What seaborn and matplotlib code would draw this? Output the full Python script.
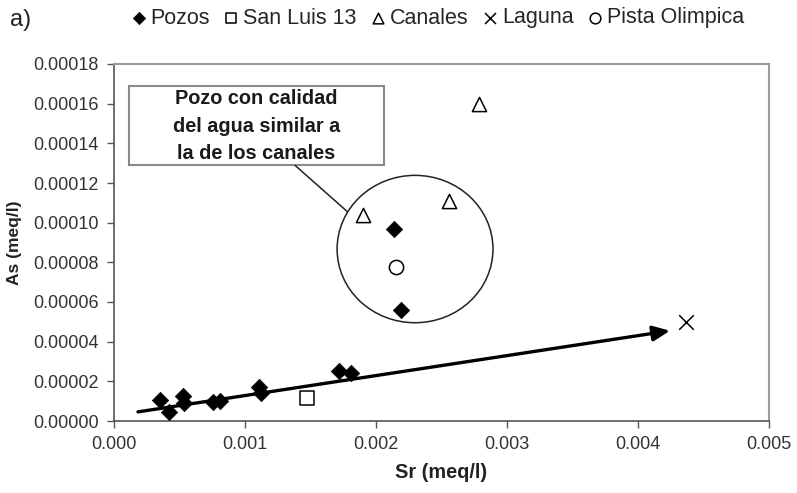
import matplotlib
matplotlib.use("Agg")
import matplotlib.pyplot as plt
from matplotlib.patches import Ellipse, Rectangle
import seaborn as sns
import numpy as np
import pandas as pd

# ---- data ----
pozos_sr = [0.000351, 0.000420, 0.000527, 0.000534, 0.000756, 0.000809,
            0.001107, 0.001122, 0.001718, 0.001809, 0.002137, 0.002191]
pozos_as = [1.06e-5, 4.6e-6, 1.26e-5, 9.1e-6, 9.6e-6, 1.01e-5,
            1.72e-5, 1.42e-5, 2.53e-5, 2.43e-5, 9.66e-5, 5.61e-5]
sanluis_sr = [0.001473]
sanluis_as = [1.16e-5]
canales_sr = [0.001900, 0.002557, 0.002786]
canales_as = [1.04e-4, 1.107e-4, 1.598e-4]
laguna_sr = [0.004366]
laguna_as = [5.0e-5]
pista_sr = [0.002153]
pista_as = [7.74e-5]
trend_sr = [0.000183, 0.004244]
trend_as = [4.6e-6, 4.55e-5]

xticks = [0.000, 0.001, 0.002, 0.003, 0.004, 0.005]
yticks = [0.0, 0.00002, 0.00004, 0.00006, 0.00008, 0.00010,
          0.00012, 0.00014, 0.00016, 0.00018]
x_label = "Sr (meq/l)"
y_label = "As (meq/l)"
box_text = "Pozo con calidad\ndel agua similar a\nla de los canales"

sns.set_theme(style="white")
plt.rcParams['font.family'] = ['Liberation Sans', 'DejaVu Sans']

fig = plt.figure(figsize=(7.97, 4.93), dpi=100)
ax = fig.add_axes([114/797, 72/493, (769-114)/797, (421-64)/493])

sns.scatterplot(x=pozos_sr, y=pozos_as, marker='D', s=70, color='black',
                edgecolor='black', linewidth=0.5, ax=ax, label='Pozos', zorder=4)
sns.scatterplot(x=sanluis_sr, y=sanluis_as, marker='s', s=95, facecolor='white',
                edgecolor='black', linewidth=1.1, ax=ax, label='San Luis 13', zorder=4)
sns.scatterplot(x=canales_sr, y=canales_as, marker='^', s=105, facecolor='white',
                edgecolor='black', linewidth=1.1, ax=ax, label='Canales', zorder=4)
sns.scatterplot(x=laguna_sr, y=laguna_as, marker='x', s=110, color='black',
                linewidth=1.1, ax=ax, label='Laguna', zorder=4)
sns.scatterplot(x=pista_sr, y=pista_as, marker='o', s=105, facecolor='white',
                edgecolor='black', linewidth=1.1, ax=ax, label='Pista Olimpica', zorder=4)

# trend arrow
ax.annotate('', xy=(trend_sr[1], trend_as[1]), xytext=(trend_sr[0], trend_as[0]),
            arrowprops=dict(arrowstyle='-|>,head_length=0.85,head_width=0.38',
                            lw=2.4, color='black', shrinkA=0, shrinkB=0),
            zorder=3)

# circle grouping
ax.add_patch(Ellipse((0.002298, 8.67e-5), 0.00119, 7.43e-5, fill=False,
                     edgecolor='#222222', lw=1.1, zorder=2))
# annotation box
ax.add_patch(Rectangle((0.000115, 1.289e-4), 0.002061-0.000115, 1.689e-4-1.289e-4,
                       facecolor='white', edgecolor='#8a8a8a', lw=1.5, zorder=2))
ax.text(0.001088, 1.487e-4, box_text, ha='center', va='center', fontsize=14.3,
        fontweight='bold', color='#1a1a1a', linespacing=1.55, zorder=3)
ax.plot([0.001382, 0.001779], [1.289e-4, 1.057e-4], color='#222222', lw=1.1, zorder=2)

ax.set_xlim(0, 0.005)
ax.set_ylim(0, 0.00018)
ax.set_xticks(xticks)
ax.set_yticks(yticks)
ax.set_xticklabels([f"{v:.3f}" for v in xticks])
ax.set_yticklabels([f"{v:.5f}" for v in yticks])
ax.tick_params(axis='both', which='both', direction='out', length=5, width=1,
               color='#555555', labelsize=13, labelcolor='#333333', pad=6,
               bottom=True, left=True)
ax.set_xlabel(x_label, fontsize=14.3, fontweight='bold', color='#222222', labelpad=7)
ax.set_ylabel(y_label, fontsize=12.5, fontweight='bold', color='#222222', labelpad=8)

for side in ['left', 'bottom']:
    ax.spines[side].set_color('#555555')
    ax.spines[side].set_linewidth(1.2)
for side in ['top', 'right']:
    ax.spines[side].set_color('#9a9a9a')
    ax.spines[side].set_linewidth(1.5)

handles, labels = ax.get_legend_handles_labels()
ax.get_legend().remove()
fig.legend(handles, labels, loc='center', bbox_to_anchor=(0.547, 1-18/493), ncol=5,
           frameon=False, fontsize=15.5, handletextpad=0.05, columnspacing=0.5,
           handlelength=1.0, markerscale=0.75, borderaxespad=0, borderpad=0)

fig.text(10/797, 1-20/493, "a)", fontsize=17, va='center', ha='left', color='#222222')

fig.savefig("out.png", dpi=100)
